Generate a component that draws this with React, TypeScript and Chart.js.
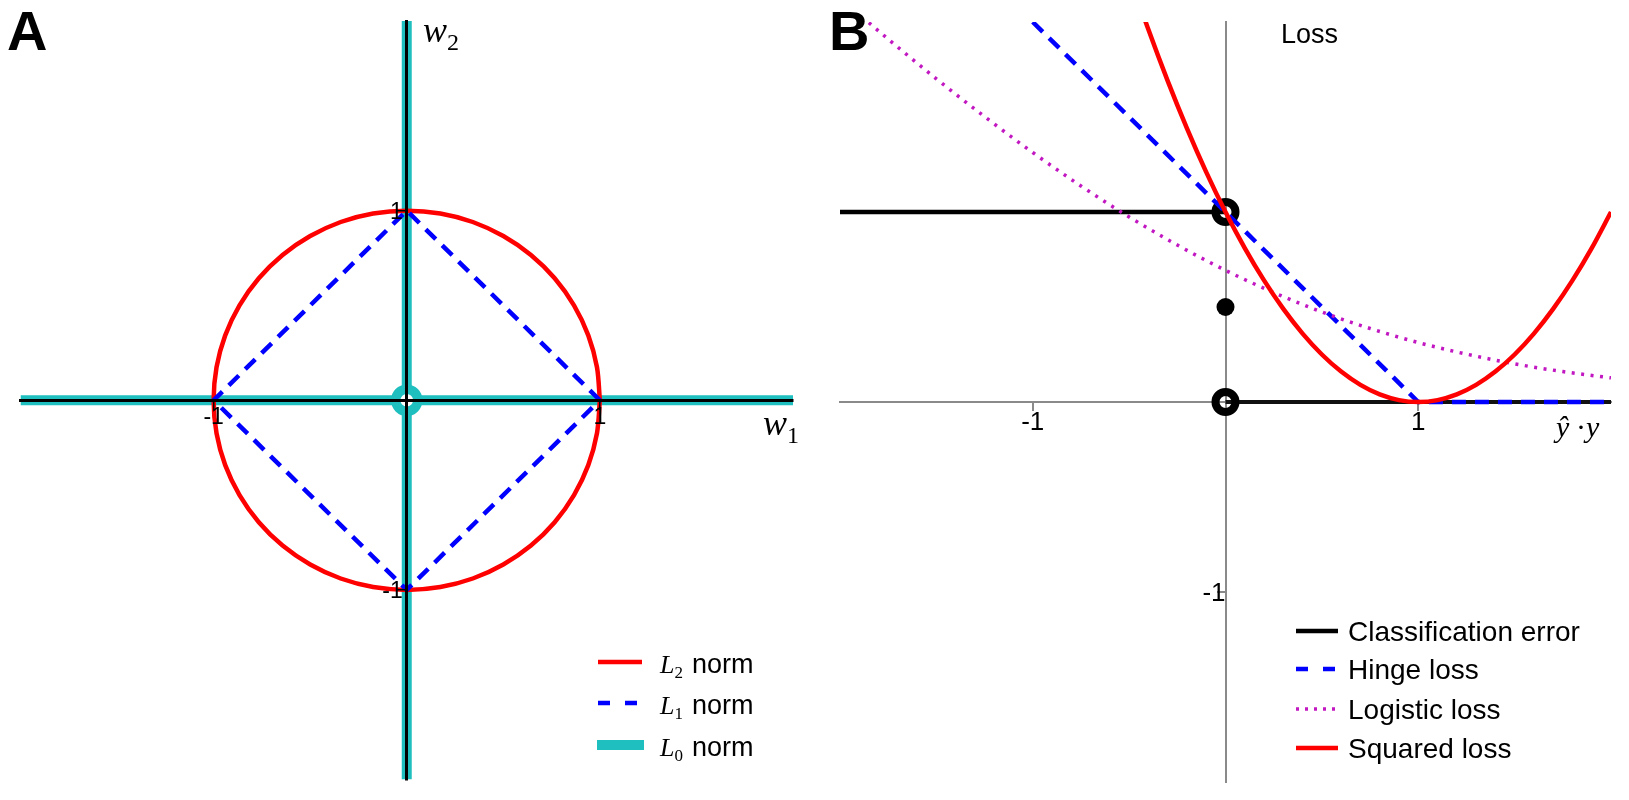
import React, { useEffect, useRef } from 'react';
import { Chart, registerables } from 'chart.js';

Chart.register(...registerables);

// ---------------- Panel A data ----------------
const l2NormX = [1, 0.985, 0.94, 0.866, 0.766, 0.643, 0.5, 0.342, 0.174, 0, -0.174, -0.342, -0.5, -0.643, -0.766, -0.866, -0.94, -0.985, -1, -0.985, -0.94, -0.866, -0.766, -0.643, -0.5, -0.342, -0.174, 0, 0.174, 0.342, 0.5, 0.643, 0.766, 0.866, 0.94, 0.985, 1];
const l2NormY = [0, 0.174, 0.342, 0.5, 0.643, 0.766, 0.866, 0.94, 0.985, 1, 0.985, 0.94, 0.866, 0.766, 0.643, 0.5, 0.342, 0.174, 0, -0.174, -0.342, -0.5, -0.643, -0.766, -0.866, -0.94, -0.985, -1, -0.985, -0.94, -0.866, -0.766, -0.643, -0.5, -0.342, -0.174, 0];
const l1NormX = [1, 0, -1, 0, 1];
const l1NormY = [0, 1, 0, -1, 0];
const l0HorizX = [-2, 2];
const l0HorizY = [0, 0];
const l0VertX = [0, 0];
const l0VertY = [-2, 2];
const l0PointX = [0];
const l0PointY = [0];
const aTickValues = [-1, 1];
const aTickLabels = ['-1', '1'];
const aLegendSubs = ['2', '1', '0'];

// ---------------- Panel B data ----------------
const errLeftX = [-2, 0];
const errLeftY = [1, 1];
const errRightX = [0, 2];
const errRightY = [0, 0];
const errOpenX = [0, 0];
const errOpenY = [1, 0];
const errDotX = [0];
const errDotY = [0.5];
const hingeX = [-1, 1, 2];
const hingeY = [2, 0, 0];
const logisticX = [-2, -1.75, -1.5, -1.25, -1, -0.75, -0.5, -0.25, 0, 0.25, 0.5, 0.75, 1, 1.25, 1.5, 1.75, 2];
const logisticY = [2.127, 1.91, 1.701, 1.502, 1.313, 1.137, 0.974, 0.826, 0.693, 0.576, 0.474, 0.387, 0.313, 0.252, 0.201, 0.16, 0.127];
const squaredX = [-0.5, -0.4, -0.3, -0.2, -0.1, 0, 0.1, 0.2, 0.3, 0.4, 0.5, 0.6, 0.7, 0.8, 0.9, 1, 1.1, 1.2, 1.3, 1.4, 1.5, 1.6, 1.7, 1.8, 1.9, 2];
const squaredY = [2.25, 1.96, 1.69, 1.44, 1.21, 1, 0.81, 0.64, 0.49, 0.36, 0.25, 0.16, 0.09, 0.04, 0.01, 0, 0.01, 0.04, 0.09, 0.16, 0.25, 0.36, 0.49, 0.64, 0.81, 1];
const bXTickValues = [-1, 1];
const bXTickLabels = ['-1', '1'];
const bYTickValues = [-1];
const bYTickLabels = ['-1'];
const lossNames = ['Classification error', 'Hinge loss', 'Logistic loss', 'Squared loss'];

// ---------------- styles ----------------
const RED = '#ff0000';
const BLUE = '#0000ff';
const CYAN = '#1fbfbf';
const MAGENTA = '#c218c2';
const GRAY = '#8a8a8a';
const SANS = '"Liberation Sans", Arial, sans-serif';
const SERIF = '"Liberation Serif", "Times New Roman", serif';

const zip = (xs: number[], ys: number[]) => xs.map((x, i) => ({ x, y: ys[i] }));

const lineDs = (data: any, color: string, width: number, order: number, extra: any = {}) => ({
  data,
  showLine: true,
  borderColor: color,
  borderWidth: width,
  pointRadius: 0,
  fill: false,
  tension: 0,
  order,
  clip: 0,
  ...extra,
});

const centeredScales = (xTicks: number[], yTicks: number[], color: string, bw: number, tw: number, z: number) => ({
  x: {
    type: 'linear',
    min: -2,
    max: 2,
    position: { y: 0 },
    afterBuildTicks: (a: any) => { a.ticks = xTicks.map((v) => ({ value: v })); },
    ticks: { display: false },
    grid: { display: true, drawOnChartArea: false, drawTicks: true, tickLength: 8, color, lineWidth: tw, z },
    border: { display: true, color, width: bw, z },
  },
  y: {
    type: 'linear',
    min: -2,
    max: 2,
    position: { x: 0 },
    afterBuildTicks: (a: any) => { a.ticks = yTicks.map((v) => ({ value: v })); },
    ticks: { display: false },
    grid: { display: true, drawOnChartArea: false, drawTicks: true, tickLength: 8, color, lineWidth: tw, z },
    border: { display: true, color, width: bw, z },
  },
});

function drawSample(ctx: CanvasRenderingContext2D, x1: number, x2: number, y: number, color: string, width: number, dash: number[]) {
  ctx.save();
  ctx.strokeStyle = color;
  ctx.lineWidth = width;
  ctx.setLineDash(dash);
  ctx.lineCap = 'butt';
  ctx.beginPath();
  ctx.moveTo(x1, y);
  ctx.lineTo(x2, y);
  ctx.stroke();
  ctx.restore();
}

function drawMathSub(ctx: CanvasRenderingContext2D, main: string, sub: string, x: number, base: number, size: number, subSize: number, subDy: number) {
  ctx.font = `italic ${size}px ${SERIF}`;
  ctx.textAlign = 'left';
  ctx.textBaseline = 'alphabetic';
  ctx.fillText(main, x, base);
  const w = ctx.measureText(main).width;
  ctx.font = `${subSize}px ${SERIF}`;
  ctx.fillText(sub, x + w, base + subDy);
}

const panelAPlugin = {
  id: 'panelA',
  afterDraw(chart: any) {
    const ctx = chart.ctx as CanvasRenderingContext2D;
    const xs = chart.scales.x;
    const ys = chart.scales.y;
    const ox = xs.getPixelForValue(0);
    const oy = ys.getPixelForValue(0);
    ctx.save();
    ctx.fillStyle = '#000';
    // tick labels
    ctx.font = `23px ${SANS}`;
    ctx.textBaseline = 'alphabetic';
    ctx.textAlign = 'center';
    aTickValues.forEach((v, i) => ctx.fillText(aTickLabels[i], xs.getPixelForValue(v), oy + 24));
    ctx.textAlign = 'right';
    aTickValues.forEach((v, i) => ctx.fillText(aTickLabels[i], ox - 4, ys.getPixelForValue(v) + 8.5));
    // panel letter
    ctx.textAlign = 'left';
    ctx.font = `bold 56px ${SANS}`;
    ctx.fillText('A', 7, 50);
    // axis labels
    drawMathSub(ctx, 'w', '2', 423, 42, 36, 24, 8);
    drawMathSub(ctx, 'w', '1', 763, 435, 36, 24, 8);
    // legend
    const rows = [662, 703, 745];
    drawSample(ctx, 598, 642, rows[0], RED, 4.5, []);
    drawSample(ctx, 598, 642, rows[1], BLUE, 4.5, [12, 15]);
    drawSample(ctx, 597, 644, rows[2], CYAN, 10, []);
    rows.forEach((ry, i) => {
      ctx.fillStyle = '#000';
      drawMathSub(ctx, 'L', aLegendSubs[i], 660, ry + 11, 26, 17, 5);
      ctx.font = `27px ${SANS}`;
      ctx.fillText('norm', 692, ry + 11);
    });
    ctx.restore();
  },
};

const panelBPlugin = {
  id: 'panelB',
  afterDraw(chart: any) {
    const ctx = chart.ctx as CanvasRenderingContext2D;
    const xs = chart.scales.x;
    const ys = chart.scales.y;
    const ox = xs.getPixelForValue(0);
    const oy = ys.getPixelForValue(0);
    ctx.save();
    ctx.fillStyle = '#000';
    ctx.font = `26px ${SANS}`;
    ctx.textBaseline = 'alphabetic';
    ctx.textAlign = 'center';
    bXTickValues.forEach((v, i) => ctx.fillText(bXTickLabels[i], xs.getPixelForValue(v), oy + 28));
    ctx.textAlign = 'right';
    bYTickValues.forEach((v, i) => ctx.fillText(bYTickLabels[i], ox, ys.getPixelForValue(v) + 9));
    ctx.textAlign = 'left';
    ctx.font = `bold 56px ${SANS}`;
    ctx.fillText('B', 14, 50);
    ctx.font = `27px ${SANS}`;
    ctx.fillText('Loss', 466, 43);
    // x axis label  ŷ · y
    ctx.font = `italic 30px ${SERIF}`;
    ctx.fillText('\u0177', 741, 437);
    ctx.font = `30px ${SERIF}`;
    ctx.fillText('\u00b7', 761, 437);
    ctx.font = `italic 30px ${SERIF}`;
    ctx.fillText('y', 771, 437);
    // legend
    const rows = [631, 669, 709, 748];
    drawSample(ctx, 481, 523, rows[0], '#000', 4.5, []);
    drawSample(ctx, 481, 523, rows[1], BLUE, 4.5, [12, 15]);
    drawSample(ctx, 481, 523, rows[2], MAGENTA, 3.5, [3, 6]);
    drawSample(ctx, 481, 523, rows[3], RED, 4.5, []);
    ctx.font = `28px ${SANS}`;
    ctx.fillStyle = '#000';
    lossNames.forEach((n, i) => ctx.fillText(n, 533, rows[i] + 10));
    ctx.restore();
  },
};

function makeConfigA(): any {
  return {
    type: 'scatter',
    data: {
      datasets: [
        lineDs(zip(l1NormX, l1NormY), BLUE, 4.5, 0, { borderDash: [14, 9] }),
        lineDs(zip(l2NormX, l2NormY), RED, 4.5, 1, { tension: 0.3 }),
        {
          data: zip(l0PointX, l0PointY),
          showLine: false,
          pointRadius: 11,
          pointBorderWidth: 9.5,
          pointBorderColor: CYAN,
          pointBackgroundColor: '#ffffff',
          order: 2,
          clip: 0,
        },
        lineDs(zip(l0HorizX, l0HorizY), CYAN, 10, 3),
        lineDs(zip(l0VertX, l0VertY), CYAN, 10, 3),
      ],
    },
    options: {
      animation: false,
      responsive: false,
      events: [],
      layout: { padding: { left: 19, right: 22, top: 21, bottom: 13 } },
      plugins: { legend: { display: false }, tooltip: { enabled: false }, title: { display: false } },
      scales: centeredScales(aTickValues, aTickValues, '#000', 3, 1.5, 1),
    },
    plugins: [panelAPlugin],
  };
}

function makeConfigB(): any {
  return {
    type: 'scatter',
    data: {
      datasets: [
        lineDs(zip(squaredX, squaredY), RED, 4.5, 0, { cubicInterpolationMode: 'monotone' }),
        lineDs(zip(logisticX, logisticY), MAGENTA, 3.5, 1, { borderDash: [3, 6.5], cubicInterpolationMode: 'monotone' }),
        lineDs(zip(hingeX, hingeY), BLUE, 4.5, 2, { borderDash: [14, 9] }),
        {
          data: zip(errOpenX, errOpenY),
          showLine: false,
          pointRadius: 10,
          pointBorderWidth: 8,
          pointBorderColor: '#000',
          pointBackgroundColor: 'rgba(0,0,0,0)',
          order: 3,
          clip: 0,
        },
        {
          data: zip(errDotX, errDotY),
          showLine: false,
          pointRadius: 9,
          pointBorderWidth: 0,
          pointBackgroundColor: '#000',
          order: 3,
          clip: 0,
        },
        lineDs(zip(errLeftX, errLeftY), '#000', 4.5, 4),
        lineDs(zip(errRightX, errRightY), '#111', 4, 4),
      ],
    },
    options: {
      animation: false,
      responsive: false,
      events: [],
      layout: { padding: { left: 25, right: 13, top: 22, bottom: 14 } },
      plugins: { legend: { display: false }, tooltip: { enabled: false }, title: { display: false } },
      scales: centeredScales(bXTickValues, bYTickValues, GRAY, 2, 2, 0),
    },
    plugins: [panelBPlugin],
  };
}

function ChartCanvas({ make, left, width, height }: { make: () => any; left: number; width: number; height: number }) {
  const ref = useRef<HTMLCanvasElement>(null);
  useEffect(() => {
    const chart = new Chart(ref.current as HTMLCanvasElement, make());
    return () => chart.destroy();
  }, []);
  return (
    <canvas
      ref={ref}
      width={width}
      height={height}
      style={{ position: 'absolute', left, top: 0, width, height, display: 'block' }}
    />
  );
}

export default function App() {
  return (
    <div style={{ position: 'fixed', left: 0, top: 0, width: 1629, height: 800, background: '#ffffff', overflow: 'hidden' }}>
      <ChartCanvas make={makeConfigA} left={0} width={815} height={800} />
      <ChartCanvas make={makeConfigB} left={815} width={814} height={800} />
    </div>
  );
}
